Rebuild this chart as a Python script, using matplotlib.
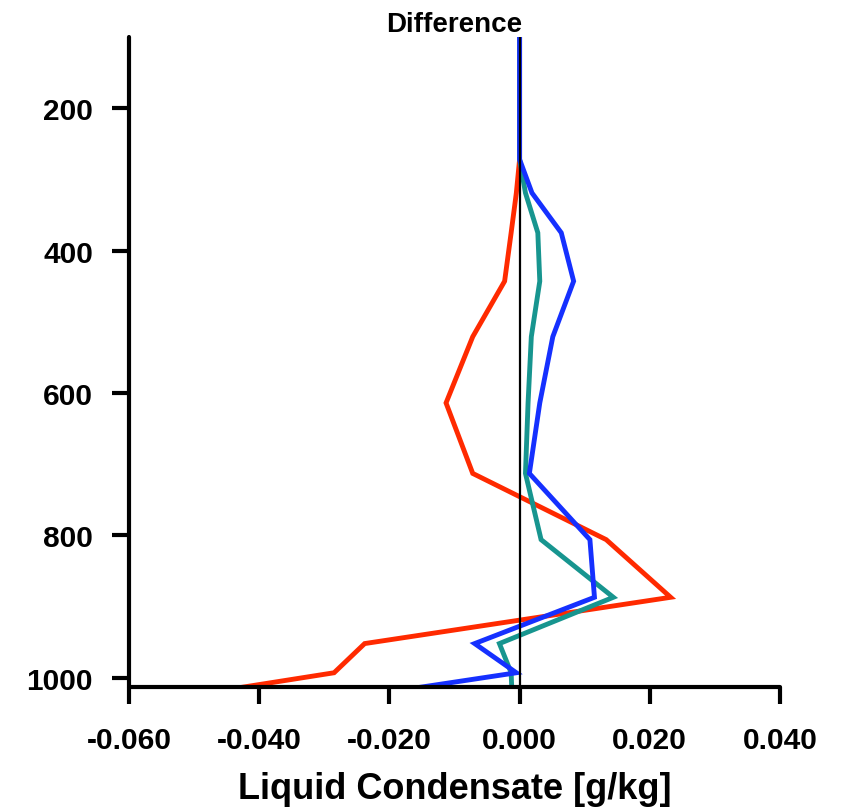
import matplotlib
matplotlib.use("Agg")
import matplotlib.pyplot as plt

# Pressure levels (hPa)
pressure = [85.4, 100.5, 118.3, 139.1, 163.7, 192.6, 227.0, 272.0, 319.0, 375.0,
            443.0, 521.0, 614.0, 713.0, 806.0, 887.0, 952.0, 993.0, 1015.5]
# Liquid condensate differences (g/kg)
red_vals = [0.0, 0.0, 0.0, 0.0, 0.0, 0.0, 0.0, 0.0, -0.0005, -0.0013,
            -0.0023, -0.0072, -0.0113, -0.0072, 0.0133, 0.0232, -0.0238, -0.0285, -0.0441]
teal_vals = [0.0, 0.0, 0.0, 0.0, 0.0, 0.0, 0.0, 0.0, 0.0009, 0.0028,
             0.0031, 0.0018, 0.0013, 0.0009, 0.0033, 0.0144, -0.0031, -0.0013, -0.0012]
blue_vals = [0.0, 0.0, 0.0, 0.0, 0.0, 0.0, 0.0, 0.0, 0.0019, 0.0064,
             0.0083, 0.0051, 0.0031, 0.0015, 0.0108, 0.0115, -0.0069, -0.0005, -0.0168]

xticks = [-0.06, -0.04, -0.02, 0.0, 0.02, 0.04]
xticklabels = ["-0.060", "-0.040", "-0.020", "0.000", "0.020", "0.040"]
yticks = [200, 400, 600, 800, 1000]

fam = ['Liberation Sans', 'DejaVu Sans']

fig = plt.figure(figsize=(8.41, 8.12), dpi=100)
ax = fig.add_axes([129/841, 1-688/812, 651/841, (688-38)/812])

ax.plot(red_vals, pressure, color='#ff2a00', lw=3.5, solid_joinstyle='miter')
ax.plot(teal_vals, pressure, color='#17958f', lw=3.5, solid_joinstyle='miter')
ax.plot(blue_vals, pressure, color='#1530ff', lw=3.5, solid_joinstyle='miter')
ax.axvline(0.0, color='black', lw=1.6)

ax.set_xlim(-0.06, 0.04)
ax.set_ylim(1013, 100)

ax.spines['top'].set_visible(False)
ax.spines['right'].set_visible(False)
ax.spines['left'].set_linewidth(3)
ax.spines['bottom'].set_linewidth(3)
ax.spines['left'].set_capstyle('round')
ax.spines['bottom'].set_capstyle('round')

ax.set_xticks(xticks)
ax.set_xticklabels(xticklabels)
ax.set_yticks(yticks)
ax.tick_params(axis='x', direction='out', length=12, width=3, pad=16)
ax.tick_params(axis='y', direction='out', length=12, width=3, pad=14)
for lab in ax.get_xticklabels():
    lab.set_family(fam)
    lab.set_fontweight('bold')
    lab.set_fontsize(21.5)
for lab in ax.get_yticklabels():
    lab.set_family(fam)
    lab.set_fontweight('bold')
    lab.set_fontsize(21.5)

ax.set_xlabel('Liquid Condensate [g/kg]', family=fam, fontweight='bold',
              fontsize=26, labelpad=12)
ax.set_title('Difference', family=fam, fontweight='bold', fontsize=20, pad=4)

fig.savefig('out.png', dpi=100)
